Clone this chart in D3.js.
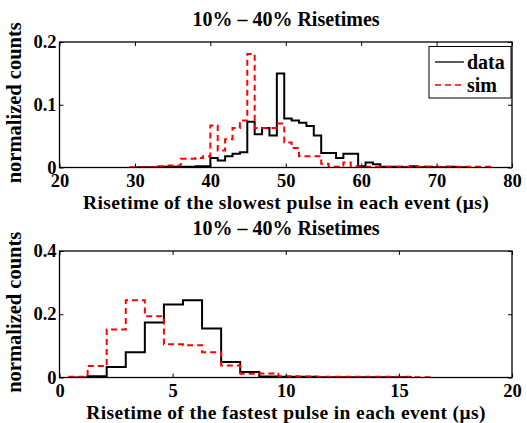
<!DOCTYPE html>
<html><head><meta charset="utf-8">
<script src="https://cdn.jsdelivr.net/npm/d3@7"></script>
<style>body{margin:0;background:#fff}svg{display:block}text{font-family:"Liberation Serif","Times New Roman","DejaVu Serif",serif;font-weight:bold;fill:#000}</style>
</head><body>
<script>
// ---- data ----
const titles = ["10% \u2013 40% Risetimes", "10% \u2013 40% Risetimes"];
const xLabels = ["Risetime of the slowest pulse in each event (\u03bcs)", "Risetime of the fastest pulse in each event (\u03bcs)"];
const yLabel = "normalized counts";
const seriesNames = ["data", "sim"];

// top panel: bin edges start + width
const topBinStart = 30.2, topBinWidth = 0.98;
const topData = [0.0005,0.0005,0.0005,0.001,0.001,0.001,0.001,0.001,0.002,0.002,
  0.015,0.011,0.018,0.022,0.0245,0.073,0.053,0.063,0.051,0.15,
  0.078,0.075,0.0715,0.066,0.051,0.023,0.023,0.015,0.022,0.022,
  0.002,0.008,0.005,0.001,0.001,0.001,0.0005,0.002,0.0005,0.001,
  0.0005,0.0005,0.001,0.0005,0.0005];
const topSimStart = 29.22;
const topSim = [0.0005,0.0005,0.0005,0.0005,0.002,0.003,0.003,0.014,0.014,0.015,0.018,
  0.067,0.027,0.045,0.063,0.075,0.181,0.063,0.063,0.063,0.07,
  0.04,0.031,0.018,0.018,0.018,0.006,0.001,0.001,0.008,0.002,
  0.001,0.001,0.001,0.001,0.001,0.001,0.001,0.001,0.001,0.001,
  0.001,0.001,0.001,0.001,0.001,0.001,0.001,0.001];
const topXTicks = [20,30,40,50,60,70,80];
const topYTicks = [0,0.1,0.2];

// bottom panel
const botBinStart = 0.4, botBinWidth = 0.843;
const botData = [0,0.004,0.033,0.08,0.174,0.231,0.244,0.155,0.049,0.017,
  0.003,0.002,0.002,0.001,0.001,0.001,0.001,0.001];
const botSim = [0.002,0.036,0.152,0.244,0.194,0.105,0.102,0.08,0.038,0.012,
  0.013,0.004,0.003,0.002,0.002,0.002,0.002,0.002,0.001];
const botXTicks = [0,5,10,15,20];
const botYTicks = [0,0.2,0.4];

const W = 527, H = 423;
const svg = d3.select("body").append("svg").attr("width", W).attr("height", H);
svg.append("rect").attr("width", W).attr("height", H).attr("fill", "#fff");

function panel(cfg) {
  const x = d3.scaleLinear().domain(cfg.xDomain).range([59.5, 512]);
  const y = d3.scaleLinear().domain(cfg.yDomain).range([cfg.bottom, cfg.top]);
  const g = svg.append("g");
  const clipId = "clip" + cfg.id;
  g.append("clipPath").attr("id", clipId).append("rect")
    .attr("x", x.range()[0]).attr("y", cfg.top).attr("width", x.range()[1]-x.range()[0]).attr("height", cfg.bottom-cfg.top);

  const stepLine = d3.line().x(d => x(d[0])).y(d => y(d[1])).curve(d3.curveStepAfter);
  function pts(start, w, vals) {
    const p = vals.map((v, i) => [start + i * w, v]);
    p.push([start + vals.length * w, vals[vals.length - 1]]);
    return p;
  }
  const plot = g.append("g").attr("clip-path", `url(#${clipId})`);
  plot.append("path").attr("d", stepLine(pts(cfg.dStart, cfg.dW, cfg.data)))
    .attr("fill", "none").attr("stroke", "#000").attr("stroke-width", 2);
  plot.append("path").attr("d", stepLine(pts(cfg.sStart, cfg.dW, cfg.sim)))
    .attr("fill", "none").attr("stroke", "#ff0000").attr("stroke-width", 2).attr("stroke-dasharray", "6,4");

  // frame
  g.append("rect").attr("x", x.range()[0]).attr("y", cfg.top)
    .attr("width", x.range()[1]-x.range()[0]).attr("height", cfg.bottom-cfg.top)
    .attr("fill", "none").attr("stroke", "#000").attr("stroke-width", 1.3);

  const styleText = sel => sel.attr("font-size", 18.5).attr("font-family", "Liberation Serif, Times New Roman, serif")
    .attr("font-weight", "bold").attr("fill", "#000");
  const tl = 4;
  g.append("g").attr("transform", `translate(0,${cfg.bottom})`)
    .call(d3.axisBottom(x).tickValues(cfg.xTicks).tickSize(-tl).tickFormat(d3.format("d")).tickPadding(6))
    .call(a => { a.select(".domain").remove(); a.selectAll("text").call(styleText); });
  g.append("g").attr("transform", `translate(0,${cfg.top})`)
    .call(d3.axisTop(x).tickValues(cfg.xTicks).tickSize(-tl).tickFormat(""))
    .call(a => a.select(".domain").remove());
  g.append("g").attr("transform", `translate(${x.range()[0]},0)`)
    .call(d3.axisLeft(y).tickValues(cfg.yTicks).tickSize(-tl).tickFormat(d => d === 0 ? "0" : d3.format(".1f")(d)).tickPadding(3))
    .call(a => { a.select(".domain").remove(); a.selectAll("text").call(styleText).attr("dy", "0.3em"); });
  g.append("g").attr("transform", `translate(${x.range()[1]},0)`)
    .call(d3.axisRight(y).tickValues(cfg.yTicks).tickSize(-tl).tickFormat(""))
    .call(a => a.select(".domain").remove());

  g.append("text").attr("x", 286).attr("y", cfg.top - 16).attr("text-anchor", "middle")
    .attr("font-size", 20).text(cfg.title);
  g.append("text").attr("x", 286).attr("y", cfg.bottom + 41).attr("text-anchor", "middle")
    .attr("font-size", 19.5).attr("letter-spacing", 0.4).text(cfg.xLabel);
  g.append("text").attr("transform", `translate(21,${(cfg.top+cfg.bottom)/2 - 2}) rotate(-90)`)
    .attr("text-anchor", "middle").attr("font-size", 20.5).text(yLabel);
  return {x, y, g};
}

panel({id: 1, xDomain: [20, 80], yDomain: [0, 0.2], top: 42, bottom: 167.5,
  dStart: topBinStart, dW: topBinWidth, data: topData, sStart: topSimStart, sim: topSim,
  xTicks: topXTicks, yTicks: topYTicks, title: titles[0], xLabel: xLabels[0]});
panel({id: 2, xDomain: [0, 20], yDomain: [0, 0.4], top: 251, bottom: 377.5,
  dStart: botBinStart, dW: botBinWidth, data: botData, sStart: botBinStart, sim: botSim,
  xTicks: botXTicks, yTicks: botYTicks, title: titles[1], xLabel: xLabels[1]});

// legend
const lg = svg.append("g");
lg.append("rect").attr("x", 429).attr("y", 46.5).attr("width", 82).attr("height", 51.5)
  .attr("fill", "#fff").attr("stroke", "#000").attr("stroke-width", 1);
const lgItems = [{name: seriesNames[0], color: "#000", dash: null, y: 62},
                 {name: seriesNames[1], color: "#ff0000", dash: "6,4", y: 85}];
lgItems.forEach(it => {
  lg.append("line").attr("x1", 435).attr("x2", 464).attr("y1", it.y).attr("y2", it.y)
    .attr("stroke", it.color).attr("stroke-width", 1.3).attr("stroke-dasharray", it.dash);
  lg.append("text").attr("x", 467).attr("y", it.y).attr("dy", "0.33em").attr("font-size", 20).text(it.name);
});
</script>
</body></html>
